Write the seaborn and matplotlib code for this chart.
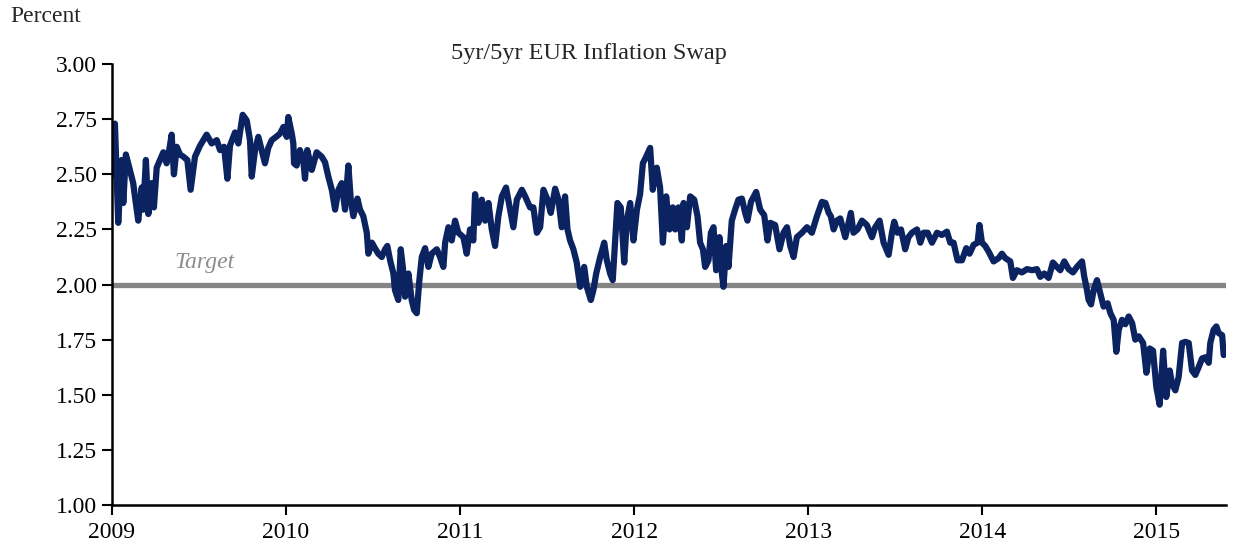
import numpy as np
import pandas as pd
import matplotlib
matplotlib.use("Agg")
import matplotlib.pyplot as plt
import seaborn as sns

# 5yr/5yr EUR inflation swap (decimal year, percent)
anos = [
    2009.007, 2009.017, 2009.036, 2009.056, 2009.065, 2009.080, 2009.103, 2009.122,
    2009.132, 2009.151, 2009.171, 2009.180, 2009.195, 2009.209, 2009.228, 2009.241,
    2009.257, 2009.276, 2009.295, 2009.314, 2009.329, 2009.343, 2009.356, 2009.372,
    2009.391, 2009.410, 2009.433, 2009.452, 2009.477, 2009.506, 2009.544, 2009.573,
    2009.602, 2009.621, 2009.644, 2009.663, 2009.678, 2009.707, 2009.726, 2009.751,
    2009.774, 2009.793, 2009.803, 2009.822, 2009.841, 2009.860, 2009.879, 2009.898,
    2009.918, 2009.943,
    2009.966, 2009.985, 2010.004, 2010.013, 2010.033, 2010.042, 2010.046, 2010.061,
    2010.080, 2010.099, 2010.109, 2010.122, 2010.148, 2010.176, 2010.205, 2010.224,
    2010.243, 2010.263, 2010.282, 2010.301, 2010.320, 2010.339, 2010.358, 2010.372,
    2010.387, 2010.410, 2010.425, 2010.444, 2010.464, 2010.473, 2010.493, 2010.511,
    2010.530, 2010.550, 2010.569, 2010.582, 2010.598, 2010.617, 2010.626, 2010.645,
    2010.659, 2010.671, 2010.684, 2010.703, 2010.722, 2010.736, 2010.751, 2010.766,
    2010.780, 2010.799, 2010.818, 2010.837, 2010.866, 2010.885, 2010.904, 2010.914,
    2010.933, 2010.952, 2010.971, 2010.990,
    2011.019, 2011.038, 2011.057, 2011.076, 2011.086, 2011.105, 2011.125, 2011.144,
    2011.163, 2011.182, 2011.201, 2011.220, 2011.240, 2011.264, 2011.287, 2011.306,
    2011.326, 2011.355, 2011.374, 2011.402, 2011.421, 2011.441, 2011.460, 2011.479,
    2011.502, 2011.521, 2011.546, 2011.565, 2011.584, 2011.603, 2011.617, 2011.632,
    2011.651, 2011.670, 2011.690, 2011.713, 2011.728, 2011.751, 2011.766, 2011.782,
    2011.805, 2011.828, 2011.843, 2011.862, 2011.877, 2011.891, 2011.904, 2011.923,
    2011.943, 2011.958, 2011.977, 2011.996, 2012.016, 2012.034, 2012.050, 2012.069,
    2012.092, 2012.107, 2012.130,
    2012.149, 2012.165, 2012.184, 2012.203, 2012.222, 2012.236, 2012.255, 2012.274,
    2012.284, 2012.303, 2012.322, 2012.345, 2012.364, 2012.379, 2012.395, 2012.408,
    2012.427, 2012.441, 2012.456, 2012.471, 2012.490, 2012.504, 2012.513, 2012.529,
    2012.542, 2012.561, 2012.580, 2012.599, 2012.619, 2012.638, 2012.651, 2012.671,
    2012.701, 2012.724, 2012.747, 2012.766, 2012.782, 2012.810, 2012.835, 2012.858,
    2012.878, 2012.897, 2012.916, 2012.935, 2012.964, 2012.993, 2013.021, 2013.050,
    2013.079, 2013.099, 2013.118, 2013.130, 2013.146, 2013.165, 2013.184,
    2013.213, 2013.232, 2013.245, 2013.260, 2013.283, 2013.309, 2013.337, 2013.366,
    2013.385, 2013.410, 2013.433, 2013.462, 2013.481, 2013.494, 2013.513, 2013.533,
    2013.557, 2013.576, 2013.596, 2013.625, 2013.644, 2013.663, 2013.686, 2013.711,
    2013.740, 2013.768, 2013.797, 2013.816, 2013.835, 2013.858, 2013.883, 2013.908,
    2013.927, 2013.950, 2013.973, 2013.984, 2013.998, 2014.017, 2014.036, 2014.065,
    2014.094, 2014.113,
    2014.132, 2014.161, 2014.176, 2014.199, 2014.228, 2014.257, 2014.286, 2014.314,
    2014.333, 2014.356, 2014.381, 2014.406, 2014.429, 2014.448, 2014.471, 2014.496,
    2014.521, 2014.544, 2014.573, 2014.586, 2014.598, 2014.611, 2014.625, 2014.640,
    2014.659, 2014.678, 2014.697, 2014.720, 2014.736, 2014.755, 2014.770, 2014.784,
    2014.803, 2014.822, 2014.841, 2014.861, 2014.879, 2014.899, 2014.924, 2014.943,
    2014.962, 2014.981, 2015.000, 2015.019, 2015.039, 2015.057, 2015.077, 2015.090,
    2015.109, 2015.128, 2015.148, 2015.167, 2015.186, 2015.205, 2015.224, 2015.243,
    2015.263, 2015.282, 2015.301, 2015.310, 2015.329, 2015.345, 2015.358, 2015.378,
    2015.387,
]

swap = [
    2.50, 2.73, 2.28, 2.565, 2.37, 2.59, 2.52, 2.46,
    2.40, 2.29, 2.44, 2.34, 2.565, 2.32, 2.46, 2.35,
    2.53, 2.565, 2.60, 2.55, 2.61, 2.68, 2.50, 2.625,
    2.59, 2.58, 2.565, 2.43, 2.58, 2.63, 2.68, 2.64,
    2.655, 2.61, 2.625, 2.48, 2.63, 2.69, 2.64, 2.77,
    2.745, 2.655, 2.49, 2.61, 2.67, 2.61, 2.55, 2.62,
    2.655, 2.67,
    2.685, 2.715, 2.67, 2.76, 2.685, 2.64, 2.55, 2.54,
    2.61, 2.565, 2.48, 2.61, 2.52, 2.60, 2.58, 2.555,
    2.49, 2.43, 2.34, 2.43, 2.46, 2.34, 2.54, 2.385,
    2.31, 2.39, 2.34, 2.31, 2.235, 2.14, 2.19, 2.165,
    2.14, 2.125, 2.16, 2.175, 2.11, 2.05, 1.975, 1.93,
    2.16, 2.08, 1.945, 2.05, 1.93, 1.885, 1.87, 2.02,
    2.125, 2.165, 2.08, 2.14, 2.16, 2.125, 2.08, 2.19,
    2.26, 2.20, 2.29, 2.235,
    2.215, 2.14, 2.25, 2.20, 2.41, 2.28, 2.385, 2.29,
    2.37, 2.25, 2.175, 2.31, 2.40, 2.44, 2.34, 2.26,
    2.385, 2.43, 2.40, 2.35, 2.35, 2.235, 2.26, 2.43,
    2.385, 2.325, 2.435, 2.385, 2.26, 2.40, 2.25, 2.20,
    2.16, 2.10, 1.99, 2.08, 1.99, 1.93, 1.975, 2.05,
    2.125, 2.19, 2.11, 2.05, 2.02, 2.20, 2.37, 2.35,
    2.10, 2.29, 2.37, 2.20, 2.34, 2.41, 2.55, 2.58,
    2.62, 2.43, 2.53,
    2.44, 2.19, 2.40, 2.25, 2.35, 2.25, 2.35, 2.20,
    2.37, 2.26, 2.40, 2.385, 2.31, 2.19, 2.16, 2.08,
    2.11, 2.235, 2.26, 2.065, 2.215, 2.05, 1.99, 2.175,
    2.08, 2.29, 2.34, 2.385, 2.39, 2.325, 2.29, 2.375,
    2.42, 2.34, 2.315, 2.20, 2.28, 2.27, 2.16, 2.235,
    2.26, 2.175, 2.125, 2.215, 2.235, 2.26, 2.235, 2.31,
    2.375, 2.37, 2.325, 2.31, 2.25, 2.29, 2.30,
    2.215, 2.28, 2.325, 2.235, 2.25, 2.29, 2.27, 2.215,
    2.26, 2.29, 2.19, 2.135, 2.235, 2.285, 2.235, 2.25,
    2.16, 2.215, 2.235, 2.25, 2.19, 2.235, 2.235, 2.19,
    2.235, 2.225, 2.24, 2.19, 2.19, 2.11, 2.11, 2.165,
    2.14, 2.18, 2.19, 2.27, 2.19, 2.175, 2.15, 2.105,
    2.12, 2.14,
    2.12, 2.105, 2.03, 2.065, 2.055, 2.07, 2.065, 2.07,
    2.035, 2.05, 2.03, 2.10, 2.08, 2.065, 2.105, 2.07,
    2.055, 2.08, 2.105, 2.035, 1.99, 1.93, 1.91, 1.975,
    2.02, 1.96, 1.90, 1.915, 1.87, 1.84, 1.695, 1.795,
    1.84, 1.82, 1.855, 1.825, 1.75, 1.765, 1.735, 1.60,
    1.71, 1.70, 1.535, 1.455, 1.70, 1.49, 1.61, 1.55,
    1.52, 1.58, 1.735, 1.74, 1.735, 1.61, 1.59, 1.625,
    1.665, 1.67, 1.645, 1.735, 1.795, 1.81, 1.78, 1.77,
    1.68,
]

meta = 2.0
anos_ticks = [2009, 2010, 2011, 2012, 2013, 2014, 2015]
y_ticks = [1.00, 1.25, 1.50, 1.75, 2.00, 2.25, 2.50, 2.75, 3.00]

sns.set_style("ticks")
plt.rcParams["font.family"] = ["Liberation Serif", "DejaVu Serif"]

df = pd.DataFrame({"Ano": anos, "Swap": swap})

fig = plt.figure(figsize=(12.44, 5.48), dpi=100)
ax = fig.add_axes([0.090, 0.0785, 0.8955, 0.8045])

ax.axhline(meta, color="#858585", linewidth=3.8, zorder=1)
sns.lineplot(data=df, x="Ano", y="Swap", ax=ax, color="#0b2360",
             linewidth=4.5, zorder=2, solid_joinstyle="round",
             solid_capstyle="round")

ax.set_xlim(2009, 2015.40)
ax.set_ylim(1.0, 3.0)
ax.set_xticks(anos_ticks)
ax.set_xticklabels([str(a) for a in anos_ticks])
ax.set_yticks(y_ticks)
ax.set_yticklabels([f"{v:.2f}" for v in y_ticks])
ax.set_xlabel("")
ax.set_ylabel("")

for lado in ["top", "right"]:
    ax.spines[lado].set_visible(False)
for lado in ["left", "bottom"]:
    ax.spines[lado].set_linewidth(1.8)
    ax.spines[lado].set_color("black")
ax.tick_params(axis="both", direction="out", length=7, width=1.5,
               labelsize=17, colors="black", pad=4)
ax.tick_params(axis="x", pad=5)

ax.text(2009.53, 2.10, "Target", fontsize=17, style="italic",
        color="#8c8c8c", ha="center", va="center")

fig.text(589 / 1244, 1 - 53 / 548, "5yr/5yr EUR Inflation Swap",
         fontsize=17.5, ha="center", va="center")
fig.text(10 / 1244, 1 - 17 / 548, "Percent", fontsize=17,
         ha="left", va="center")

fig.savefig("out.png", dpi=100)
